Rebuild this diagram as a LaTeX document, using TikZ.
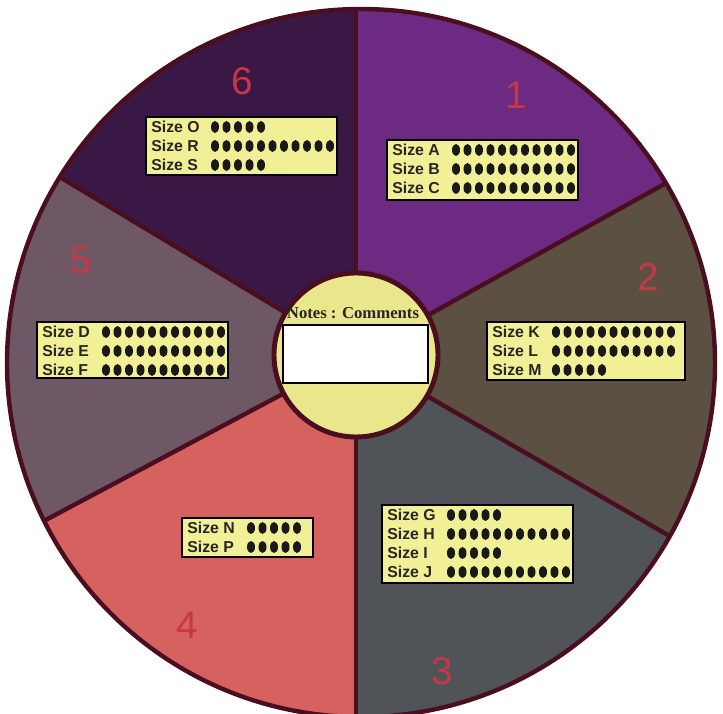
\documentclass[tikz,border=0pt]{standalone}
\usepackage{fontspec}
\setmainfont{Liberation Serif}
\setsansfont{Liberation Sans}
\usepackage{tikz}
\usetikzlibrary{positioning, calc}
\usepackage{xcolor}

\definecolor{rimcol}{RGB}{74,14,30}
\definecolor{secA}{RGB}{108,42,130}
\definecolor{secB}{RGB}{92,80,66}
\definecolor{secC}{RGB}{80,84,88}
\definecolor{secD}{RGB}{214,98,96}
\definecolor{secE}{RGB}{110,88,102}
\definecolor{secF}{RGB}{58,24,70}
\definecolor{boxyellow}{RGB}{242,240,150}
\definecolor{innyellow}{RGB}{234,230,140}
\definecolor{numred}{RGB}{200,55,70}

\begin{document}
\begin{tikzpicture}[x=0.02cm, y=0.02cm,
    sizebox/.style={fill=boxyellow, draw=black, line width=1.1pt},
    sizelbl/.style={anchor=west, inner sep=0pt, text=black!85, font=\sffamily\bfseries\fontsize{9}{9}\selectfont},
    secnum/.style={text=numred, font=\sffamily\fontsize{22}{22}\selectfont},
    rim/.style={draw=rimcol, line width=2.5pt}]

        \useasboundingbox (0,0) rectangle (723,713);

        % Центры диска и внутреннего круга
        \coordinate (O) at (361,350);
        \coordinate (I) at (356,358);

        % Секторы 1--6
        \begin{scope}
            \clip (O) circle (354);
            \foreach \a/\b/\c in {29/90/secA, -30/29/secB, -90/-30/secC, 208/270/secD, 149/208/secE, 90/149/secF} {
                \fill[\c] (I) -- +(\a:600) -- +({(\a+\b)/2}:800) -- +(\b:600) -- cycle;
            }
            \foreach \a in {90, 29, -30, -90, 208, 149}
                \draw[rim] (I) -- +(\a:600);
        \end{scope}
        \draw[rim] (O) circle (354);

        % Номера секторов
        \foreach \n/\x/\y in {1/516/618, 2/648/436, 3/442/42, 4/187/88, 5/81/453, 6/242/632}
            \node[secnum] (num\n) at (\x,\y) {\n};

        % Таблички размеров
        \foreach \id/\bx/\by/\bw/\bh/\rows in {
                b6/146/596/191/58/{O/5,R/11,S/5},
                b1/387/573/191/60/{A/11,B/11,C/11},
                b2/487/391/198/58/{K/11,L/11,M/5},
                b5/37/391/191/56/{D/11,E/11,F/11},
                b4/182/195/131/39/{N/5,P/5},
                b3/382/208/191/78/{G/5,H/11,I/5,J/11}} {
            \draw[sizebox] (\bx,\by) rectangle ++(\bw,-\bh);
            \foreach \s/\k [count=\i] in \rows {
                \node[sizelbl] (\id\s) at ({\bx+5},{\by-10-19*(\i-1)}) {Size \s};
                \foreach \j in {1,...,\k}
                    \fill[black!90] ({\bx+69+11.5*(\j-1)},{\by-10-19*(\i-1)}) ellipse [x radius=4, y radius=6];
            }
        }

        % Центр: заметки
        \draw[fill=innyellow, draw=rimcol, line width=2.8pt] (I) circle (82);
        \node[font=\bfseries\fontsize{9.5}{9.5}\selectfont, text=black!85] (notes) at (353,400) {Notes : Comments};
        \node[draw=black, fill=white, line width=1.1pt, minimum width=2.9cm, minimum height=1.16cm, inner sep=0pt] (comment) at (355.5,359) {};
    \end{tikzpicture}
\end{document}
